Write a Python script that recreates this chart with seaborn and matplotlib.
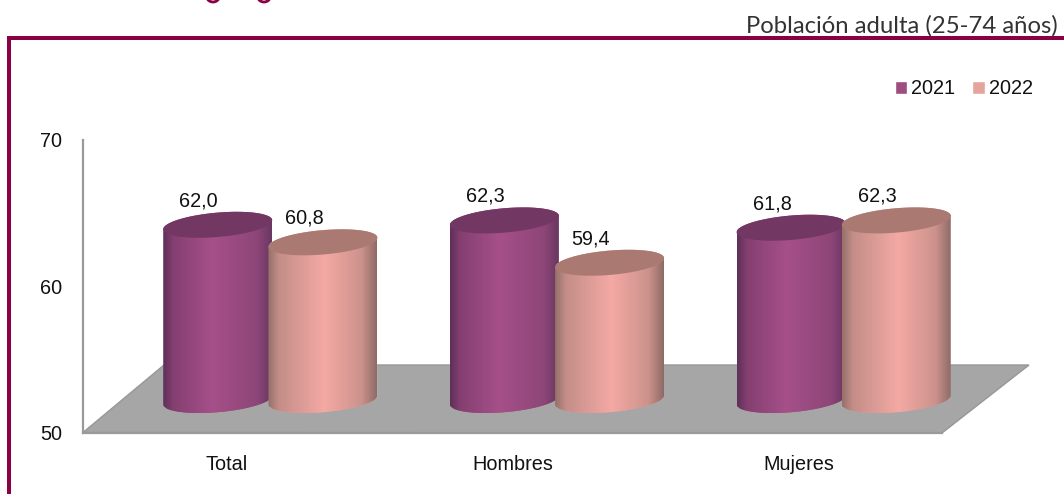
import numpy as np
import pandas as pd
import seaborn as sns
import matplotlib
matplotlib.use("Agg")
import matplotlib.pyplot as plt
from matplotlib.path import Path
from matplotlib.patches import Polygon, Rectangle, PathPatch, Arc
from matplotlib.colors import LinearSegmentedColormap

categories = ["Total", "Hombres", "Mujeres"]
years = ["2021", "2022"]
values_2021 = [62.0, 62.3, 61.8]
values_2022 = [60.8, 59.4, 62.3]
y_ticks = [50, 60, 70]
subtitle = "Población adulta (25-74 años)"

W, H = 1064, 494
MAROON = "#8A0044"
legend_colors = {"2021": "#9E4D80", "2022": "#E5A49B"}
side_stops = {
    "2021": [(0, "#5E2F59"), (0.09, "#843F70"), (0.45, "#A65089"), (0.86, "#8E4678"), (1, "#6A3762")],
    "2022": [(0, "#95706A"), (0.10, "#C48E88"), (0.52, "#F4A9A4"), (0.86, "#CC928C"), (1, "#8F6B66")],
}
top_colors = {"2021": "#733763", "2022": "#AA7A72"}

sns.set_theme(style="white")
plt.rcParams["font.family"] = ["Liberation Sans", "DejaVu Sans"]
FS = 14.3

fig = plt.figure(figsize=(W / 100, H / 100), dpi=100, facecolor="white")


def rect_px(x0, y_top, x1, y_bottom):
    return [x0 / W, 1 - y_bottom / H, (x1 - x0) / W, (y_bottom - y_top) / H]


# frame and floor, in pixel space
deco = fig.add_axes([0, 0, 1, 1], zorder=0)
deco.set_xlim(0, W)
deco.set_ylim(H, 0)
deco.axis("off")
deco.add_patch(Rectangle((7, 36), W - 7, 4, fc=MAROON, ec="none"))
deco.add_patch(Rectangle((7, 36), 4, H - 36, fc=MAROON, ec="none"))
deco.add_patch(Polygon([(83, 432.5), (164, 365), (1029, 365), (942, 433)],
                       closed=True, fc="#A6A6A6", ec="#979797", lw=1))
for xc in (213, 264):
    deco.add_patch(Arc((xc, -3), 12, 10, theta1=0, theta2=180, ec=MAROON, lw=2))
deco.text(1058, 26, subtitle, family=["Lato", "DejaVu Sans"], fontsize=17.2,
          color="#333333", ha="right", va="center")

# front plane: value axis and category labels
front = fig.add_axes(rect_px(83, 140, 942, 433), zorder=1)
front.patch.set_visible(False)
front.set_xlim(-0.5, 2.5)
front.set_ylim(y_ticks[0], y_ticks[-1])
front.set_xticks(range(len(categories)), categories)
front.set_yticks(y_ticks)
front.tick_params(axis="both", length=0, labelsize=FS, colors="#111111")
front.tick_params(axis="x", pad=15.5)
front.tick_params(axis="y", pad=15)
for s in ("top", "right"):
    front.spines[s].set_visible(False)
for s in ("left", "bottom"):
    front.spines[s].set_color("#9A9A9A")
    front.spines[s].set_linewidth(1.6)

# cylinders: same scale, shifted into depth
bars = fig.add_axes(rect_px(127, 400 - 20 * 14.6, 987, 400 + 2 * 14.6), zorder=2)
bars.patch.set_visible(False)
df = pd.DataFrame({
    "cat": categories * 2,
    "year": [years[0]] * 3 + [years[1]] * 3,
    "val": values_2021 + values_2022,
})
sns.barplot(data=df, x="cat", y="val", hue="year", hue_order=years, palette=legend_colors,
            width=0.734, dodge=True, ax=bars, saturation=1)
bars.set_xlim(-0.5, 2.5)
YLIM = (48, 70)
bars.set_ylim(*YLIM)

BASE = 50.0
a = 54.5 / (860 / 3)
b = 12.2 / 14.6
tilt = 4.5 / 14.6
theta_low = np.linspace(np.pi, 2 * np.pi, 60)
theta_up = np.linspace(0, np.pi, 60)
theta_all = np.linspace(0, 2 * np.pi, 120)

for j, (year, container) in enumerate(zip(years, bars.containers)):
    cmap = LinearSegmentedColormap.from_list(f"c{year}", side_stops[year])
    for bar in container:
        cx = bar.get_x() + bar.get_width() / 2
        v = bar.get_height()
        xs = np.r_[cx + a * np.cos(theta_low), cx + a * np.cos(theta_up)]
        ys = np.r_[BASE + b * np.sin(theta_low) + tilt * np.cos(theta_low),
                   v + b * np.sin(theta_up) + tilt * np.cos(theta_up)]
        body = Path(np.c_[xs, ys])
        z = 3 + j
        bar.set_zorder(z)
        bar.set_clip_path(body, bars.transData)
        im = bars.imshow(np.linspace(0, 1, 256)[None, :], cmap=cmap, aspect="auto",
                         extent=(cx - a, cx + a, YLIM[0], v + 2), zorder=z + 0.1)
        im.set_clip_path(body, bars.transData)
        top = Path(np.c_[cx + a * np.cos(theta_all),
                         v + b * np.sin(theta_all) + tilt * np.cos(theta_all)])
        bars.add_patch(PathPatch(top, fc=top_colors[year], ec="none", zorder=z + 0.2))
        bars.annotate(f"{v:.1f}".replace(".", ","), (cx, v), xytext=(-19, 24),
                      textcoords="offset pixels", ha="center", va="center",
                      fontsize=FS, color="#111111", zorder=10)

bars.set_xlim(-0.5, 2.5)
bars.set_ylim(*YLIM)
bars.axis("off")
handles, labels = bars.get_legend_handles_labels()
bars.legend(handles, labels, ncol=2, frameon=False, fontsize=FS, loc="center right",
            bbox_to_anchor=(1033 / W, 1 - 89 / H), bbox_transform=fig.transFigure,
            handlelength=0.62, handleheight=0.62, handletextpad=0.22, columnspacing=0.85,
            borderpad=0, borderaxespad=0, labelcolor="#111111")

fig.savefig("out.png", dpi=100, facecolor="white")
